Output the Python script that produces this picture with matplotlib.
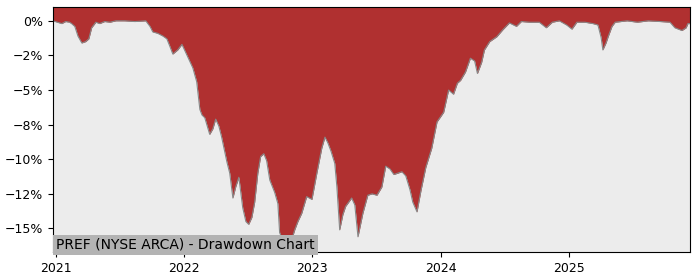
import matplotlib
matplotlib.use("Agg")
import matplotlib.pyplot as plt
import matplotlib.dates as mdates
from matplotlib.ticker import FuncFormatter
import pandas as pd

# datos (drawdown en %)
dates = [
    "2020-12-24", "2021-01-06", "2021-01-18", "2021-01-29", "2021-02-09", "2021-02-15",
    "2021-02-24", "2021-03-05", "2021-03-16", "2021-03-27", "2021-04-05", "2021-04-13",
    "2021-04-25", "2021-05-06", "2021-05-20", "2021-06-04", "2021-06-21", "2021-07-16",
    "2021-08-14", "2021-09-14", "2021-09-26", "2021-10-04", "2021-10-18", "2021-11-02",
    "2021-11-13", "2021-11-21", "2021-11-30", "2021-12-14", "2021-12-26", "2022-01-06",
    "2022-01-17", "2022-01-26", "2022-02-06", "2022-02-15", "2022-02-21", "2022-03-01",
    "2022-03-15", "2022-03-24", "2022-04-01", "2022-04-10", "2022-04-18", "2022-05-03",
    "2022-05-11", "2022-05-20", "2022-05-28", "2022-06-06", "2022-06-17", "2022-06-26",
    "2022-07-04", "2022-07-13", "2022-07-21", "2022-07-30", "2022-08-07", "2022-08-16",
    "2022-08-24", "2022-09-02", "2022-09-16", "2022-09-25", "2022-09-30", "2022-10-12",
    "2022-10-23", "2022-11-01", "2022-11-12", "2022-11-21", "2022-12-02", "2022-12-16",
    "2022-12-31", "2023-01-14", "2023-01-28", "2023-02-06", "2023-02-14", "2023-02-23",
    "2023-03-06", "2023-03-12", "2023-03-20", "2023-03-29", "2023-04-06", "2023-04-23",
    "2023-05-02", "2023-05-11", "2023-05-25", "2023-06-08", "2023-06-20", "2023-07-04",
    "2023-07-18", "2023-07-29", "2023-08-10", "2023-08-21", "2023-09-02", "2023-09-13",
    "2023-09-24", "2023-10-06", "2023-10-14", "2023-10-26", "2023-11-06", "2023-11-20",
    "2023-12-07", "2023-12-22", "2024-01-02", "2024-01-10", "2024-01-24", "2024-02-07",
    "2024-02-18", "2024-02-27", "2024-03-12", "2024-03-26", "2024-04-07", "2024-04-15",
    "2024-04-27", "2024-05-05", "2024-05-20", "2024-06-09", "2024-06-26", "2024-07-15",
    "2024-08-04", "2024-08-18", "2024-09-10", "2024-10-08", "2024-10-28", "2024-11-14",
    "2024-12-04", "2024-12-25", "2025-01-09", "2025-01-23", "2025-02-15", "2025-03-10",
    "2025-03-24", "2025-04-02", "2025-04-07", "2025-04-16", "2025-04-22", "2025-05-03",
    "2025-05-12", "2025-06-15", "2025-07-14", "2025-08-14", "2025-09-17", "2025-10-15",
    "2025-10-29", "2025-11-18", "2025-11-30", "2025-12-05", "2025-12-11",
]
drawdown = [
    0.0, -0.1, -0.2, -0.05, -0.1, -0.2,
    -0.4, -1.1, -1.6, -1.5, -1.3, -0.5,
    -0.1, -0.2, -0.05, -0.1, 0.0, 0.0,
    -0.05, 0.0, -0.4, -0.8, -0.9, -1.1,
    -1.3, -1.8, -2.4, -2.1, -1.7, -2.3,
    -2.9, -3.4, -4.4, -6.4, -6.8, -7.0,
    -8.2, -7.8, -7.1, -7.6, -8.4, -10.2,
    -11.0, -12.8, -12.0, -11.3, -13.5, -14.5,
    -14.7, -14.2, -13.1, -11.0, -9.8, -9.6,
    -10.1, -11.5, -12.4, -13.2, -15.3, -16.0,
    -16.5, -16.0, -15.1, -14.5, -13.9, -12.7,
    -12.9, -11.0, -9.2, -8.4, -8.8, -9.4,
    -10.3, -12.0, -15.1, -14.0, -13.4, -12.8,
    -13.3, -15.6, -13.9, -12.6, -12.5, -12.6,
    -12.0, -10.5, -10.7, -11.1, -11.0, -10.9,
    -11.2, -12.2, -13.1, -13.8, -12.3, -10.6,
    -9.2, -7.3, -6.9, -6.6, -5.0, -5.3,
    -4.5, -4.3, -3.7, -2.7, -2.9, -3.8,
    -3.0, -2.1, -1.5, -1.15, -0.65, -0.15,
    -0.4, -0.05, -0.1, -0.1, -0.5, -0.1,
    0.0, -0.3, -0.6, -0.1, -0.1, -0.2,
    -0.3, -1.2, -2.1, -1.6, -1.15, -0.4,
    -0.1, 0.0, -0.1, 0.0, -0.05, -0.1,
    -0.5, -0.7, -0.5, -0.2, -0.2,
]
yticks = [0, -2.5, -5, -7.5, -10, -12.5, -15]
title = "PREF (NYSE ARCA) - Drawdown Chart"

x = pd.to_datetime(dates)
ymax, ymin = 1.0, -16.7

fig = plt.figure(figsize=(7, 2.8), dpi=100)
ax = fig.add_axes([0.0757, 0.1, 0.91, 0.875])
ax.set_facecolor("#ececec")

ax.fill_between(x, drawdown, ymax, color="#b03030", linewidth=0)
ax.plot(x, drawdown, color="#888888", linewidth=0.8)

ax.set_xlim(x[0], x[-1])
ax.set_ylim(ymin, ymax)
ax.set_yticks(yticks)
ax.yaxis.set_major_formatter(FuncFormatter(lambda v, p: f"{v:.0f}%".replace("-", "\u2212")))
ax.xaxis.set_major_locator(mdates.YearLocator())
ax.xaxis.set_major_formatter(mdates.DateFormatter("%Y"))
ax.tick_params(labelsize=9)

ax.text(0.005, 0.0, title, transform=ax.transAxes, fontsize=10, ha="left", va="bottom",
        bbox=dict(facecolor="#b3b3b3", edgecolor="none", pad=2.5))

fig.savefig("out.png", dpi=100)
